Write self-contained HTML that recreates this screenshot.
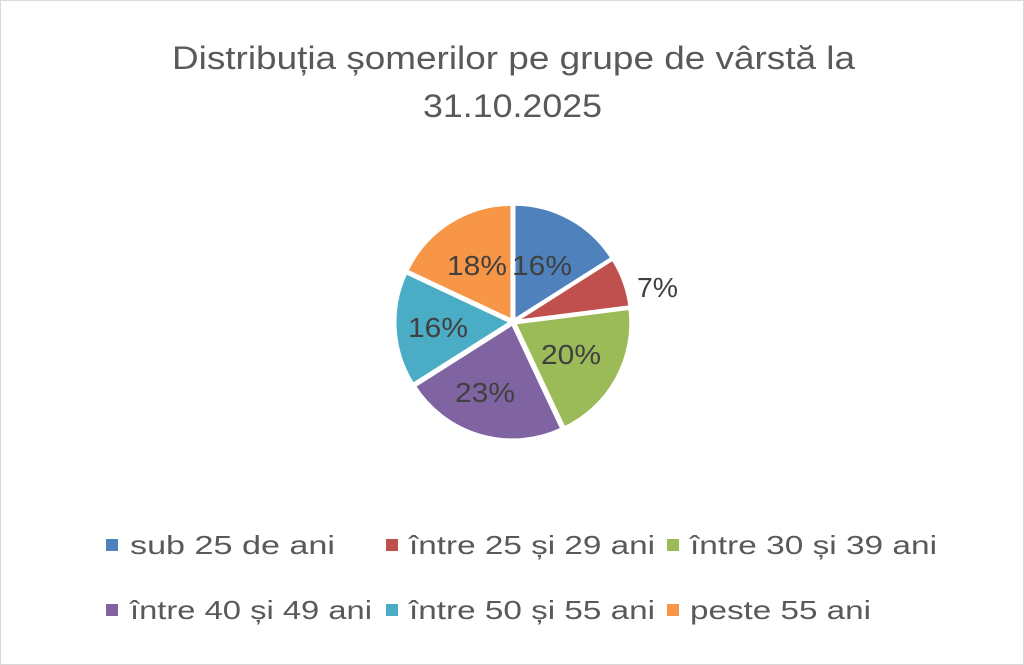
<!DOCTYPE html>
<html><head><meta charset="utf-8"><style>
html,body{margin:0;padding:0;background:#fff}
svg{display:block}
text{font-family:"Liberation Sans",sans-serif}
</style></head><body>
<svg width="1024" height="665" viewBox="0 0 1024 665">
<rect x="0.5" y="0.5" width="1023" height="664" fill="#fff" stroke="#d9d9d9"/>
<g fill="#595959" font-size="32">
<text x="172" y="69" textLength="683" lengthAdjust="spacingAndGlyphs">Distribuția șomerilor pe grupe de vârstă la</text>
<text x="423" y="117" textLength="179" lengthAdjust="spacingAndGlyphs">31.10.2025</text>
</g>
<g id="pie" stroke="#fff" stroke-width="3"></g>
<g fill="#404040" font-size="28">
<text x="512" y="275" textLength="60" lengthAdjust="spacingAndGlyphs">16%</text>
<text x="637" y="297" textLength="41" lengthAdjust="spacingAndGlyphs">7%</text>
<text x="541" y="364" textLength="60" lengthAdjust="spacingAndGlyphs">20%</text>
<text x="455" y="402" textLength="60" lengthAdjust="spacingAndGlyphs">23%</text>
<text x="408" y="337" textLength="60" lengthAdjust="spacingAndGlyphs">16%</text>
<text x="447" y="275" textLength="60" lengthAdjust="spacingAndGlyphs">18%</text>
</g>
<g font-size="26" fill="#595959">
<rect x="106" y="539" width="12" height="12" fill="#4f81bd"/><text x="130" y="554" textLength="205" lengthAdjust="spacingAndGlyphs">sub 25 de ani</text>
<rect x="386" y="539" width="12" height="12" fill="#c0504d"/><text x="409" y="554" textLength="246" lengthAdjust="spacingAndGlyphs">între 25 și 29 ani</text>
<rect x="667" y="539" width="12" height="12" fill="#9bbb59"/><text x="690" y="554" textLength="247" lengthAdjust="spacingAndGlyphs">între 30 și 39 ani</text>
<rect x="106" y="604" width="12" height="12" fill="#8064a2"/><text x="130" y="619" textLength="242" lengthAdjust="spacingAndGlyphs">între 40 și 49 ani</text>
<rect x="386" y="604" width="12" height="12" fill="#4bacc6"/><text x="409" y="619" textLength="246" lengthAdjust="spacingAndGlyphs">între 50 și 55 ani</text>
<rect x="667" y="604" width="12" height="12" fill="#f79646"/><text x="690" y="619" textLength="181" lengthAdjust="spacingAndGlyphs">peste 55 ani</text>
</g>
</svg>
<script>
var v=[16,7,20,23,16,18],c=["#4f81bd","#c0504d","#9bbb59","#8064a2","#4bacc6","#f79646"];
var cx=513,cy=322,r=116,a=0,g=document.getElementById('pie'),s="";
function p(ang,rr,ox,oy){return [(ox+rr*Math.sin(ang)).toFixed(2),(oy-rr*Math.cos(ang)).toFixed(2)];}
for(var i=0;i<6;i++){var a0=a*Math.PI/50,a1=(a+v[i])*Math.PI/50,m=(a0+a1)/2;
var ox=cx+2*Math.sin(m),oy=cy-2*Math.cos(m);var P0=p(a0,r,ox,oy),P1=p(a1,r,ox,oy);
s+='<path fill="'+c[i]+'" d="M'+ox+' '+oy+'L'+P0[0]+' '+P0[1]+'A'+r+' '+r+' 0 '+((a1-a0)>Math.PI?1:0)+' 1 '+P1[0]+' '+P1[1]+'Z"/>';a+=v[i];}
g.innerHTML=s;
</script>
</body></html>
